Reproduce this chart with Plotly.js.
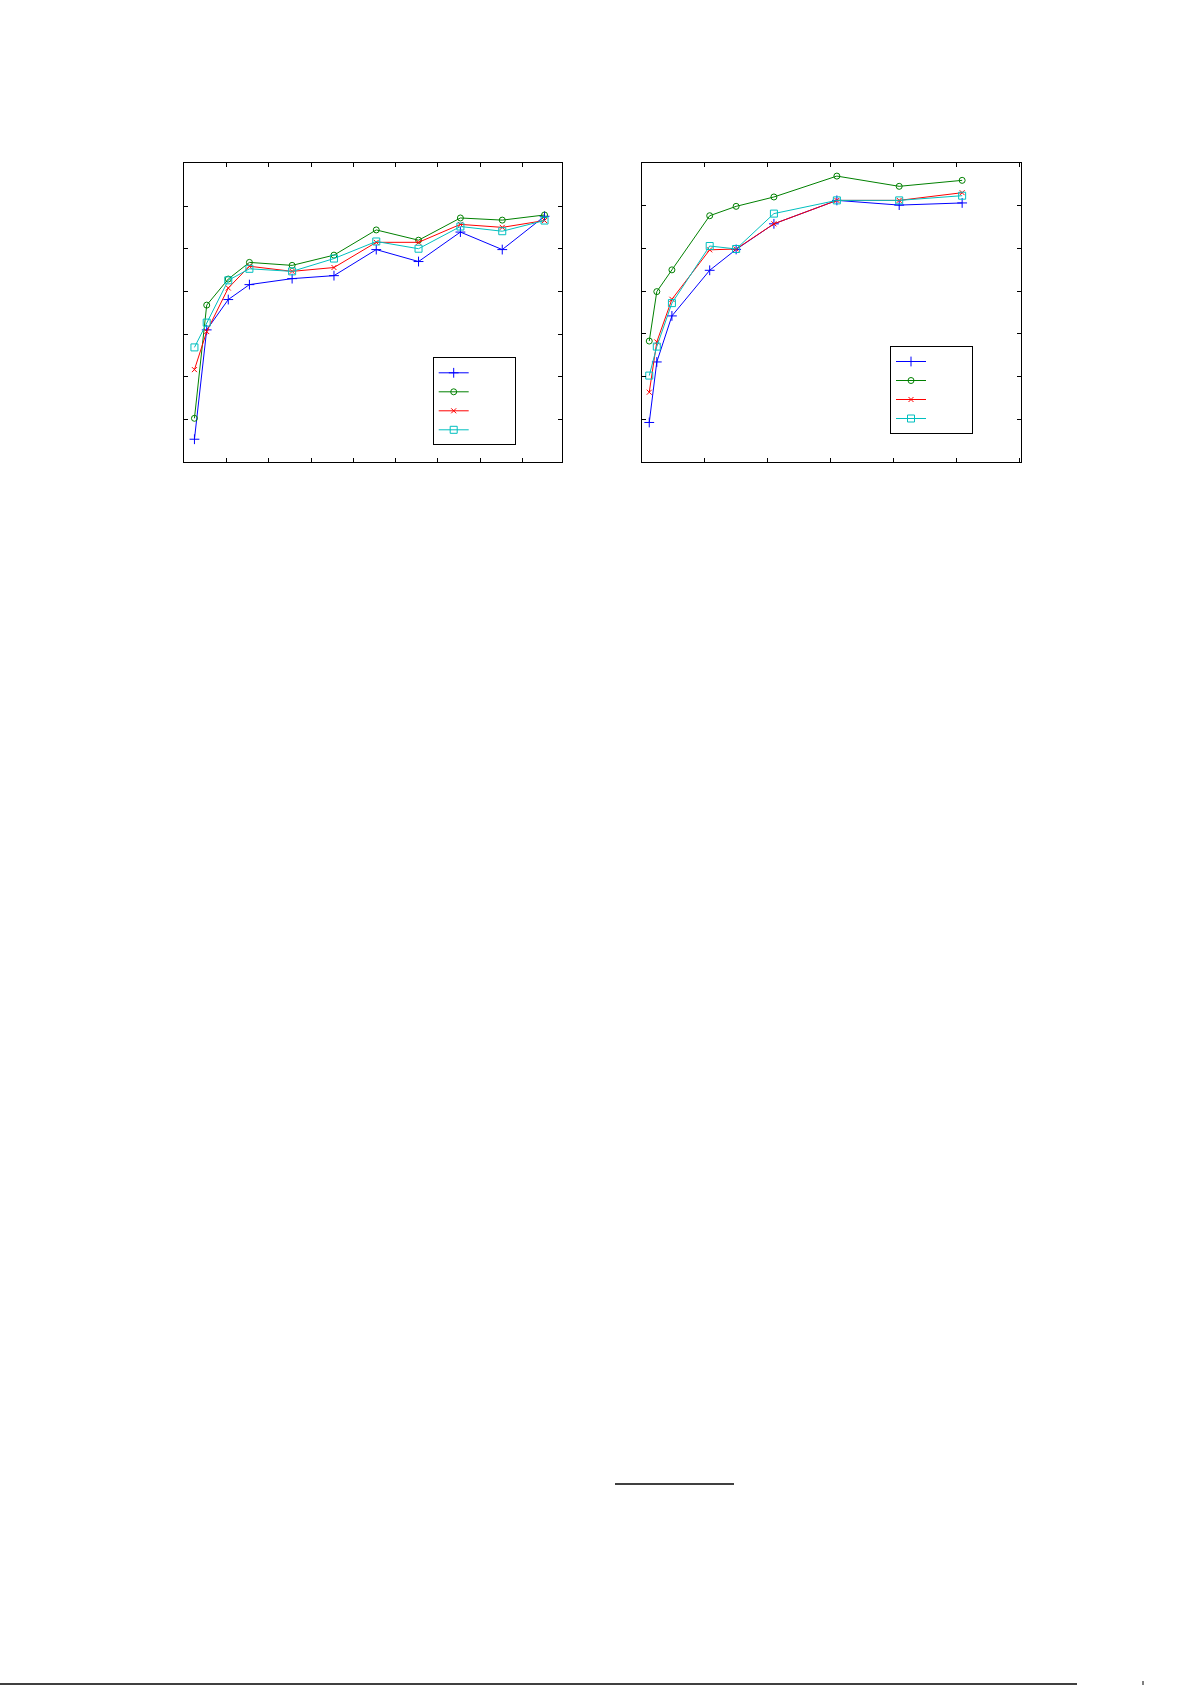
<!DOCTYPE html>
<html>
<head>
<meta charset="utf-8">
<script src="https://cdn.plot.ly/plotly-3.0.1.min.js"></script>
<style>
  html, body { margin: 0; padding: 0; background: #fff; }
  #chart { width: 1192px; height: 1685px; }
</style>
</head>
<body>
<div id="chart"></div>
<script>
// left panel
const xLeft = [0.24, 0.53, 1.04, 1.54, 2.55, 3.54, 4.54, 5.54, 6.53, 7.52, 8.52];
const leftBlue  = [0.54, 3.10, 3.81, 4.16, 4.30, 4.37, 4.98, 4.70, 5.39, 4.98, 5.76];
const leftGreen = [1.03, 3.68, 4.29, 4.68, 4.61, 4.85, 5.44, 5.20, 5.72, 5.67, 5.79];
const leftRed   = [2.17, 3.06, 4.08, 4.59, 4.47, 4.56, 5.15, 5.15, 5.57, 5.50, 5.66];
const leftCyan  = [2.69, 3.27, 4.26, 4.53, 4.47, 4.77, 5.17, 5.00, 5.52, 5.41, 5.66];

// right panel
const xRight = [0.12, 0.24, 0.48, 1.08, 1.50, 2.10, 3.10, 4.09, 5.09];
const rightBlue  = [0.92, 2.34, 3.42, 4.49, 4.98, 5.58, 6.13, 6.02, 6.07];
const rightGreen = [2.83, 3.99, 4.50, 5.77, 5.99, 6.21, 6.70, 6.46, 6.60];
const rightRed   = [1.63, 2.81, 3.81, 4.97, 4.99, 5.58, 6.13, 6.13, 6.31];
const rightCyan  = [2.02, 2.70, 3.72, 5.06, 4.99, 5.82, 6.13, 6.13, 6.24];

const styles = [
  {color: '#0000ff', symbol: 'cross-thin-open', size: 7},
  {color: '#008000', symbol: 'circle-open', size: 6},
  {color: '#ff0000', symbol: 'x-thin-open', size: 5},
  {color: '#00bfbf', symbol: 'square-open', size: 7}
];

// legend entries carry no visible text, only blank space to size the box
const blankName = '\u00a0'.repeat(14);

function series(x, ys, xa, ya, legend) {
  return ys.map((y, i) => ({
    x: x,
    y: y,
    xaxis: xa,
    yaxis: ya,
    legend: legend,
    type: 'scatter',
    mode: 'lines+markers',
    name: blankName,
    line: {color: styles[i].color, width: 1},
    marker: {
      symbol: styles[i].symbol,
      size: styles[i].size,
      color: styles[i].color,
      line: {color: styles[i].color, width: 1}
    }
  }));
}

const data = [].concat(
  series(xLeft, [leftBlue, leftGreen, leftRed, leftCyan], 'x', 'y', 'legend'),
  series(xRight, [rightBlue, rightGreen, rightRed, rightCyan], 'x2', 'y2', 'legend2')
);

const axisStyle = {
  showline: true, linecolor: '#000', linewidth: 1, mirror: 'ticks',
  ticks: 'inside', ticklen: 4, tickcolor: '#000', tickwidth: 1,
  showticklabels: false, showgrid: false, zeroline: false,
  tick0: 0, dtick: 1, fixedrange: true
};

const W = 1192, H = 1685;
const px = v => v / W;
const py = v => 1 - v / H;

const legendStyle = {
  bordercolor: '#000', borderwidth: 1, bgcolor: '#fff',
  font: {family: 'DejaVu Sans', size: 8, color: '#000'},
  xanchor: 'left', yanchor: 'top', itemwidth: 30,
  tracegroupgap: 0
};

const layout = {
  width: W,
  height: H,
  margin: {l: 0, r: 0, t: 0, b: 0},
  paper_bgcolor: '#fff',
  plot_bgcolor: '#fff',
  showlegend: true,
  xaxis:  Object.assign({}, axisStyle, {domain: [px(184.3), px(562.3)], range: [0, 8.94], anchor: 'y'}),
  yaxis:  Object.assign({}, axisStyle, {domain: [py(462.3), py(163.3)], range: [0, 7], anchor: 'x'}),
  xaxis2: Object.assign({}, axisStyle, {domain: [px(641.7), px(1020.7)], range: [0, 6.02], anchor: 'y2'}),
  yaxis2: Object.assign({}, axisStyle, {domain: [py(461.7), py(163.3)], range: [0, 7], anchor: 'x2'}),
  legend:  Object.assign({}, legendStyle, {x: px(432.7), y: py(357.3)}),
  legend2: Object.assign({}, legendStyle, {x: px(890), y: py(346)}),
  shapes: [
    // footnote rule and page rule
    {type: 'line', xref: 'paper', yref: 'paper', x0: px(615), x1: px(734), y0: py(1484), y1: py(1484),
     line: {color: '#000', width: 1.5}},
    {type: 'line', xref: 'paper', yref: 'paper', x0: 0, x1: px(1077), y0: py(1684), y1: py(1684),
     line: {color: '#000', width: 1.5}},
    {type: 'line', xref: 'paper', yref: 'paper', x0: px(1143), x1: px(1143), y0: py(1681), y1: 0,
     line: {color: '#000', width: 1}}
  ]
};

Plotly.newPlot('chart', data, layout, {displayModeBar: false, staticPlot: true});
</script>
</body>
</html>
